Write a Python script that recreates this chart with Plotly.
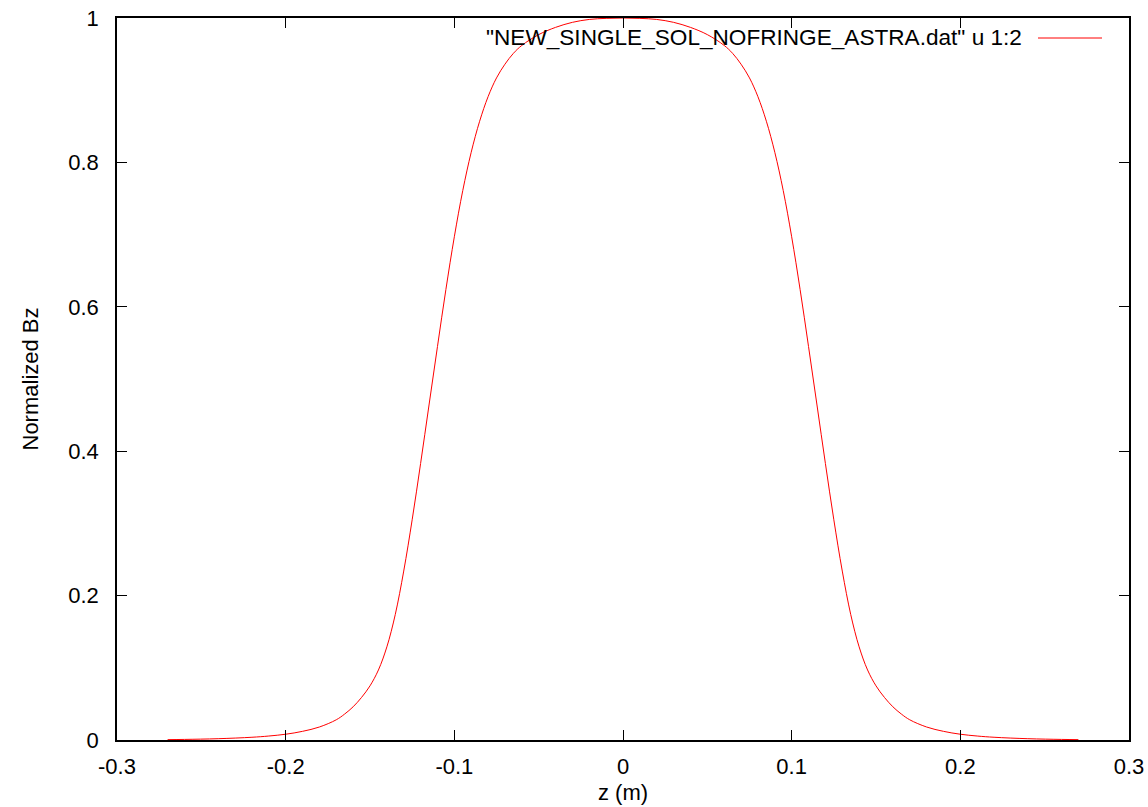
import plotly.graph_objects as go

# Half-profile (z >= 0); the field is symmetric about z = 0
z_half = [0.0, 0.01, 0.02, 0.03, 0.04, 0.05, 0.06, 0.065, 0.07, 0.075, 0.08, 0.085,
          0.09, 0.095, 0.10, 0.105, 0.11, 0.115, 0.12, 0.125, 0.13, 0.135, 0.14,
          0.145, 0.15, 0.155, 0.16, 0.165, 0.17, 0.18, 0.19, 0.20, 0.21, 0.22,
          0.24, 0.26, 0.27]
bz_half = [1.0, 0.9995, 0.998, 0.994, 0.987, 0.977, 0.962, 0.951, 0.936, 0.917, 0.891, 0.857,
           0.814, 0.761, 0.697, 0.624, 0.545, 0.464, 0.383, 0.305, 0.234, 0.174, 0.129,
           0.097, 0.075, 0.059, 0.046, 0.036, 0.028, 0.018, 0.012, 0.008, 0.0055, 0.0038,
           0.0018, 0.0008, 0.0005]

z_vals = [-v for v in reversed(z_half[1:])] + z_half
bz_vals = list(reversed(bz_half[1:])) + bz_half

x_ticks = [-0.3, -0.2, -0.1, 0, 0.1, 0.2, 0.3]
x_tick_text = ["-0.3", "-0.2", "-0.1", "0", "0.1", "0.2", "0.3"]
y_ticks = [0, 0.2, 0.4, 0.6, 0.8, 1]
y_tick_text = ["0", "0.2", "0.4", "0.6", "0.8", "1"]

legend_label = '"NEW_SINGLE_SOL_NOFRINGE_ASTRA.dat" u 1:2'
FONT = "Liberation Sans, Arial, sans-serif"
FS = 22

fig = go.Figure()
fig.add_trace(go.Scatter(x=z_vals, y=bz_vals, mode="lines", name=legend_label,
                         line=dict(color="#ff0000", width=1, shape="spline", smoothing=1),
                         showlegend=False))

axis_common = dict(showline=True, linecolor="black", linewidth=1.5, mirror="ticks",
                   ticks="inside", ticklen=10, tickwidth=1.2, tickcolor="black",
                   showgrid=False, zeroline=False, automargin=False,
                   tickfont=dict(family=FONT, size=FS, color="black"))

pw, ph = 1148 - 117 - 19, 807 - 18 - 67

fig.update_layout(
    width=1148, height=807,
    margin=dict(l=117, r=19, t=18, b=67, autoexpand=False),
    paper_bgcolor="white", plot_bgcolor="white",
    font=dict(family=FONT, size=FS, color="black"),
    xaxis=dict(range=[-0.3, 0.3], tickvals=x_ticks, ticktext=x_tick_text,
               ticklabelstandoff=6,
               title=dict(text="z (m)", font=dict(family=FONT, size=FS), standoff=6),
               **axis_common),
    yaxis=dict(range=[0, 1], tickvals=y_ticks, ticktext=y_tick_text,
               ticklabelstandoff=12,
               title=dict(text="Normalized Bz", font=dict(family=FONT, size=FS), standoff=24),
               **axis_common),
    annotations=[dict(x=(1024 - 117) / pw, y=(740 - 38) / ph, xref="paper", yref="paper",
                      text=legend_label, showarrow=False, xanchor="right", yanchor="middle",
                      font=dict(family=FONT, size=22.6, color="black"))],
)

fig.add_shape(type="line", xref="paper", yref="paper",
              x0=(1038 - 117) / pw, x1=(1102 - 117) / pw,
              y0=(740 - 38) / ph, y1=(740 - 38) / ph,
              line=dict(color="#ff0000", width=1))

fig.write_html("out.html")
